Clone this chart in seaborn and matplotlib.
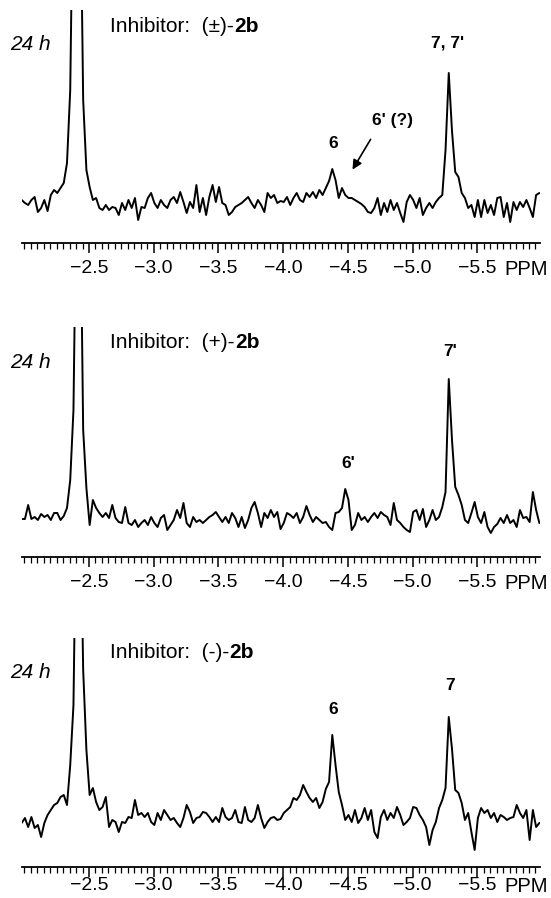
import numpy as np
import pandas as pd
import seaborn as sns
import matplotlib.pyplot as plt
from matplotlib.ticker import FixedLocator

# chemical shift grid (ppm) shared by the three spectra
ppm = np.linspace(-1.98, -5.98, 161)

# intensities (arbitrary units, 0 = axis line)
racemic = [43, 40, 38, 43, 46, 31, 35, 43, 32, 48,
           53, 50, 55, 60, 80, 153, 400, 500, 400, 143,
           73, 56, 43, 45, 35, 33, 38, 33, 36, 35,
           28, 40, 33, 43, 35, 45, 23, 36, 35, 45,
           50, 40, 35, 43, 38, 35, 43, 46, 40, 51,
           41, 30, 41, 35, 58, 31, 45, 28, 46, 58,
           41, 56, 40, 38, 28, 31, 36, 38, 40, 43,
           46, 40, 35, 43, 38, 31, 50, 45, 48, 40,
           42, 41, 46, 38, 45, 50, 43, 41, 50, 46,
           51, 45, 53, 48, 55, 62, 74, 63, 45, 55,
           48, 45, 45, 43, 41, 39, 36, 31, 30, 35,
           45, 28, 40, 31, 43, 33, 40, 30, 21, 41,
           48, 43, 35, 45, 28, 35, 40, 35, 41, 45,
           48, 93, 170, 112, 71, 66, 50, 45, 35, 38,
           26, 43, 26, 43, 30, 38, 28, 45, 46, 26,
           40, 21, 41, 33, 41, 36, 43, 35, 26, 48,
           50]

plus = [38, 38, 52, 38, 40, 37, 43, 40, 42, 37,
        44, 44, 37, 41, 49, 77, 147, 400, 400, 127,
        69, 32, 57, 49, 44, 40, 44, 39, 52, 39,
        35, 34, 50, 34, 32, 37, 30, 34, 37, 32,
        40, 34, 30, 39, 42, 27, 32, 37, 47, 39,
        54, 34, 30, 40, 35, 37, 34, 37, 40, 42,
        45, 40, 35, 40, 34, 44, 39, 30, 40, 29,
        37, 49, 55, 44, 30, 44, 39, 47, 40, 45,
        28, 34, 44, 42, 39, 44, 34, 40, 51, 42,
        35, 40, 37, 34, 35, 30, 27, 44, 45, 49,
        68, 57, 27, 32, 44, 37, 40, 35, 40, 44,
        39, 45, 42, 40, 32, 54, 37, 34, 30, 27,
        25, 45, 47, 37, 48, 30, 37, 47, 37, 40,
        50, 65, 178, 117, 70, 62, 52, 37, 34, 44,
        55, 40, 34, 45, 30, 24, 30, 33, 39, 34,
        42, 34, 37, 30, 47, 39, 40, 35, 65, 47,
        34]

minus = [44, 49, 40, 50, 39, 42, 30, 44, 52, 57,
         62, 64, 70, 72, 62, 102, 162, 400, 400, 197,
         117, 72, 79, 65, 57, 60, 70, 40, 47, 45,
         35, 45, 44, 50, 49, 67, 52, 54, 50, 54,
         45, 42, 54, 47, 57, 52, 47, 49, 44, 40,
         49, 62, 55, 44, 49, 50, 55, 54, 50, 45,
         50, 45, 59, 50, 47, 49, 57, 45, 44, 60,
         47, 45, 49, 62, 49, 39, 45, 49, 50, 47,
         48, 54, 57, 60, 69, 67, 72, 82, 75, 69,
         65, 69, 59, 65, 78, 85, 132, 102, 75, 62,
         47, 52, 45, 57, 44, 49, 59, 47, 57, 35,
         29, 50, 57, 47, 54, 49, 60, 52, 42, 45,
         49, 60, 59, 52, 47, 40, 22, 37, 45, 59,
         67, 79, 150, 118, 77, 74, 64, 47, 54, 35,
         17, 49, 59, 54, 57, 49, 54, 45, 52, 50,
         47, 49, 50, 62, 54, 49, 57, 27, 57, 40,
         44]

inhibitors = ['(\u00b1)-', '(+)-', '(-)-']
major_ticks = [-2.5, -3.0, -3.5, -4.0, -4.5, -5.0, -5.5]
tick_labels = ['\u22122.5', '\u22123.0', '\u22123.5', '\u22124.0', '\u22124.5', '\u22125.0', '\u22125.5']

# peak labels: (text, ppm, height)
peak_labels = [
    [('7, 7\'', -5.274, 200), ('6', -4.386, 100), ('6\' (?)', -4.849, 123)],
    [('7\'', -5.29, 205), ('6\'', -4.502, 94)],
    [('7', -5.29, 182), ('6', -4.386, 157)],
]

sns.set_style('ticks')
plt.rcParams['font.family'] = ['Liberation Sans', 'DejaVu Sans']
plt.rcParams['text.color'] = 'black'
plt.rcParams['xtick.color'] = 'black'
plt.rcParams['axes.edgecolor'] = 'black'

W, H = 551, 898
fig = plt.figure(figsize=(W / 100, H / 100), dpi=100)

# (spine y, top y) in pixels for each panel, and tick label pad
frames = [(243, 10), (557, 327), (867, 638)]
pads = [5.5, 5.5, 0.5]
spectra = [racemic, plus, minus]

for i, (vals, (spine, top)) in enumerate(zip(spectra, frames)):
    ax = fig.add_axes([21.7 / W, 1 - spine / H, (540 - 21.7) / W, (spine - top) / H])
    df = pd.DataFrame({'ppm': ppm, 'intensity': vals})
    sns.lineplot(data=df, x='ppm', y='intensity', ax=ax, color='black',
                 lw=1.4, sort=False, estimator=None)
    ax.set_xlim(-1.98, -5.985)
    ax.set_ylim(0, spine - top)
    for s in ['top', 'left', 'right']:
        ax.spines[s].set_visible(False)
    ax.spines['bottom'].set_linewidth(1.3)
    ax.set_yticks([])
    ax.set_xlabel('')
    ax.set_ylabel('')
    ax.xaxis.set_major_locator(FixedLocator(major_ticks))
    ax.set_xticklabels(tick_labels)
    ax.xaxis.set_minor_locator(FixedLocator(np.arange(-2.0, -5.96, -0.05)))
    ax.tick_params(axis='x', which='major', bottom=True, direction='out',
                   length=7, width=1.1, labelsize=14, pad=pads[i])
    ax.tick_params(axis='x', which='minor', bottom=True, direction='out',
                   length=4, width=0.9)
    ax.annotate('PPM', xy=(-5.88, 0), xycoords=('data', 'axes fraction'),
                xytext=(0, -(7 + pads[i])), textcoords='offset points',
                ha='center', va='top', fontsize=14.5)

    ax.text(-1.889, 195 if i else 198, '24 h', fontstyle='italic', fontsize=15,
            ha='left', va='center')
    t = ax.text(-2.666, 216 if i == 0 else 215, 'Inhibitor:  ' + inhibitors[i],
                fontsize=15, ha='left', va='center')
    ax.annotate('2b', xy=(1, 0), xycoords=t, ha='left', va='bottom',
                fontsize=15, fontweight='bold')

    for label, x, y in peak_labels[i]:
        ax.text(x, y, label, fontsize=12.5, fontweight='bold', ha='center', va='center')

    if i == 0:
        ax.annotate('', xy=(-4.525, 71), xytext=(-4.687, 106),
                    arrowprops=dict(arrowstyle='-|>', color='black', lw=1.2,
                                    mutation_scale=14))

fig.savefig('out.png', dpi=100)
